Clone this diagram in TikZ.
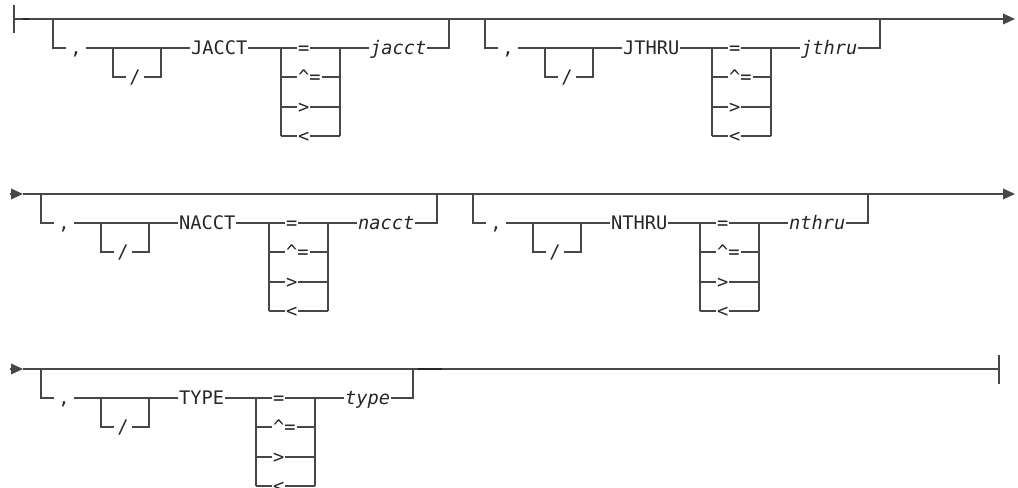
\documentclass[tikz,border=0pt]{standalone}
\usepackage{fontspec}
\newfontfamily\rrfont{DejaVu Sans Mono}
\usetikzlibrary{arrows.meta}
\tikzset{
  x=0.75pt, y=-0.75pt,
  rr/.style={line width=0.95pt, draw=black!72},
  tok/.style={inner xsep=0.6pt, inner ysep=0pt, text height=10pt, text depth=0pt,
    font=\rrfont\fontsize{14}{16}\selectfont, text=black!85},
  kw/.style={tok, anchor=west},
  val/.style={tok, anchor=west, font=\rrfont\itshape\fontsize{14}{16}\selectfont},
  tipend/.style={-{Triangle[length=9pt,width=8pt]}},
  heavy/.style={line width=1.8pt, draw=black!85},
}
% #1 prefix, #2 origin, #3 keyword, #4 value, #5 choice-left x, #6 end x
\newcommand\rrbranch[6]{%
\begin{scope}[shift={#2}]
  \coordinate (#1top) at (0,0);
  \coordinate (#1bl) at (0,29);
  \node[tok, inner xsep=3pt] (#1comma) at (23,29) {,};
  \coordinate (#1nl) at (60,29);
  \coordinate (#1nr) at (108,29);
  \coordinate (#1nlb) at (60,58);
  \coordinate (#1nrb) at (108,58);
  \node[tok, inner xsep=2pt] (#1slash) at (82,58) {/};
  \node[kw] (#1kw) at (137,29) {#3};
  \coordinate (#1cl) at (#5,29);
  \coordinate (#1cr) at (#5+59,29);
  \coordinate (#1clb) at (#5,117);
  \coordinate (#1crb) at (#5+59,117);
  \foreach \yy/\op/\nm in {29/=/eq,58/\textasciicircum=/ne,88/>/gt,117/</lt}{
    \coordinate (#1l\nm) at (#5,\yy);
    \coordinate (#1r\nm) at (#5+59,\yy);
    \node[kw] (#1\nm) at (#5+16,\yy) {\op};
    \draw[rr] (#1l\nm) -- (#1\nm) -- (#1r\nm);
  }
  \node[val] (#1val) at (#5+59+29,29) {#4};
  \coordinate (#1end) at (#6,29);
  \coordinate (#1endtop) at (#6,0);
  \draw[rr] (#1top) -- (#1bl) -- (#1comma);
  \draw[rr] (#1comma) -- (#1nl) -- (#1nr) -- (#1kw);
  \draw[rr] (#1nl) -- (#1nlb) -- (#1slash);
  \draw[rr] (#1slash) -- (#1nrb) -- (#1nr);
  \draw[rr] (#1kw) -- (#1cl) -- (#1clb);
  \draw[rr] (#1cr) -- (#1crb);
  \draw[rr] (#1cr) -- (#1val) -- (#1end) -- (#1endtop);
\end{scope}}
\begin{document}
\begin{tikzpicture}
  \useasboundingbox (0,0) rectangle (1018,488);
  % row 1
  \coordinate (s1) at (14,19);
  \coordinate (s1t) at (14,5);
  \coordinate (s1b) at (14,33);
  \coordinate (e1) at (1015,19);
  \coordinate (m1a) at (23,19);
  \coordinate (m1b) at (29,19);
  \draw[rr] (s1t) -- (s1b);
  \draw[rr, tipend] (s1) -- (e1);
  \draw[heavy] (m1a) -- (m1b);
  \rrbranch{a}{(53,19)}{JACCT}{jacct}{228}{396}
  \rrbranch{b}{(485,19)}{JTHRU}{jthru}{227}{395}
  % row 2
  \coordinate (a2) at (10,194);
  \coordinate (s2) at (23,194);
  \coordinate (e2) at (1015,194);
  \draw[rr, tipend] (a2) -- (s2);
  \draw[rr, tipend] (s2) -- (e2);
  \rrbranch{c}{(41,194)}{NACCT}{nacct}{228}{396}
  \rrbranch{d}{(473,194)}{NTHRU}{nthru}{227}{395}
  % row 3
  \coordinate (a3) at (10,369);
  \coordinate (s3) at (23,369);
  \coordinate (e3) at (999,369);
  \coordinate (e3t) at (999,355);
  \coordinate (e3b) at (999,384);
  \coordinate (m3a) at (418,369);
  \coordinate (m3b) at (442,369);
  \draw[rr, tipend] (a3) -- (s3);
  \draw[rr] (s3) -- (e3);
  \draw[rr] (e3t) -- (e3b);
  \draw[heavy] (m3a) -- (m3b);
  \rrbranch{e}{(41,369)}{TYPE}{type}{215}{372}
\end{tikzpicture}
\end{document}
